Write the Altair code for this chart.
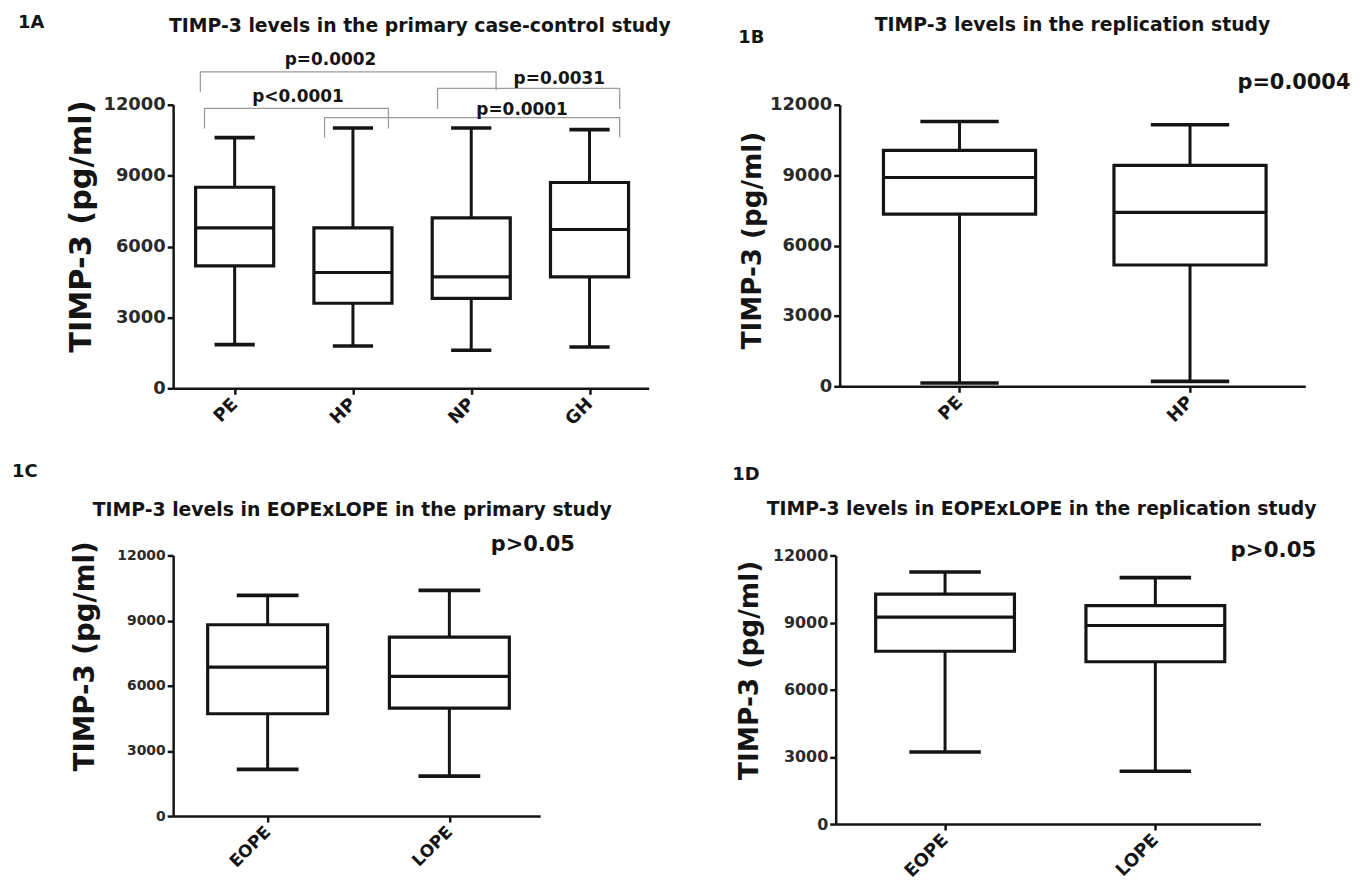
import json
import altair as alt
import pandas as pd

FONT = "DejaVu Sans"
INK = "#141414"
GREY = "#9c9c9c"

# ---------------- data ----------------
a_groups = ["PE", "HP", "NP", "GH"]
a_min = [1850, 1790, 1610, 1750]
a_q1 = [5180, 3600, 3810, 4720]
a_med = [6790, 4900, 4720, 6720]
a_q3 = [8510, 6790, 7210, 8710]
a_max = [10610, 11020, 11020, 10950]

b_groups = ["PE", "HP"]
b_min = [140, 210]
b_q1 = [7340, 5170]
b_med = [8900, 7410]
b_q3 = [10060, 9420]
b_max = [11290, 11150]

c_groups = ["EOPE", "LOPE"]
c_min = [2150, 1840]
c_q1 = [4710, 4970]
c_med = [6860, 6430]
c_q3 = [8810, 8240]
c_max = [10160, 10390]

d_groups = ["EOPE", "LOPE"]
d_min = [3220, 2360]
d_q1 = [7720, 7250]
d_med = [9240, 8870]
d_q3 = [10270, 9760]
d_max = [11260, 11010]

y_ticks = [0, 3000, 6000, 9000, 12000]
y_title = "TIMP-3  (pg/ml)"

a_pairs = [("PE", "NP"), ("PE", "HP"), ("NP", "GH"), ("HP", "GH")]
a_pvals = ["p=0.0002", "p<0.0001", "p=0.0031", "p=0.0001"]
b_pval = "p=0.0004"
c_pval = "p>0.05"
d_pval = "p>0.05"

titles = [
    "TIMP-3 levels in the primary case-control study",
    "TIMP-3 levels in the replication study",
    "TIMP-3 levels in EOPExLOPE in the primary study",
    "TIMP-3 levels in EOPExLOPE in the replication study",
]
labels = ["1A", "1B", "1C", "1D"]

# ---------------- annotation geometry (layout, not data) ----------------
# bracket: left offset, right offset, top level, left drop, right drop,
#          text offset from left group, text level
a_bracket_geom = [
    (-0.29, 0.21, 13390, 12550, 12620, 0.81, 13670),
    (-0.255, 0.30, 11845, 11000, 11000, 0.535, 12126),
    (-0.285, 0.255, 12690, 11820, 11820, 0.745, 12897),
    (-0.24, 0.255, 11455, 10610, 10610, 1.43, 11566),
]


def text_layer(txt, x, y, size, align="left"):
    return alt.Chart(pd.DataFrame({"t": [txt]})).mark_text(
        align=align, baseline="alphabetic", font=FONT, fontWeight="bold",
        fontSize=size, color=INK
    ).encode(x=alt.value(x), y=alt.value(y), text="t:N")


def frame_layer(left, top, right, bottom):
    # invisible diagonal rule that fixes the panel's layout bounds
    return alt.Chart(pd.DataFrame({"a": [0]})).mark_rule(
        opacity=0, strokeWidth=1
    ).encode(x=alt.value(-left), x2=alt.value(right),
             y=alt.value(-top), y2=alt.value(bottom))


def box_panel(groups, mn, q1, med, q3, mx, width, height, tick_fs, xlab_fs,
              ytitle_fs, ytitle_xy, label, label_xy, title, title_xy, title_fs,
              extras, frame):
    n = len(groups)
    df = pd.DataFrame({"g": groups, "i": list(range(1, n + 1)), "mn": mn,
                       "q1": q1, "med": med, "q3": q3, "mx": mx})
    base = alt.Chart(df).transform_calculate(
        l="datum.i - 0.33", r="datum.i + 0.33",
        cl="datum.i - 0.17", cr="datum.i + 0.17")
    xs = alt.Scale(domain=[0.48, n + 0.5], nice=False, zero=False)
    ys = alt.Scale(domain=[0, 12000], nice=False, zero=True)
    names = json.dumps(groups)
    xaxis = alt.Axis(values=list(range(1, n + 1)), labelExpr=f"{names}[datum.value - 1]",
                     title=None, grid=False, labelAngle=315, labelAlign="right",
                     labelBaseline="middle", labelPadding=7, labelFontSize=xlab_fs,
                     labelFont=FONT, labelFontWeight="bold", labelColor=INK,
                     domainColor=INK, domainWidth=2.5, tickColor=INK, tickWidth=2.5,
                     tickSize=6, labelOverlap=False)
    yaxis = alt.Axis(values=y_ticks, format="d", title=y_title, grid=False,
                     titleX=ytitle_xy[0], titleY=ytitle_xy[1], titleAngle=270,
                     titleAlign="center", titleBaseline="middle",
                     titleFontSize=ytitle_fs, titleFont=FONT, titleFontWeight="bold",
                     titleColor=INK, labelFontSize=tick_fs, labelFont=FONT,
                     labelFontWeight="bold", labelColor="#2a2a2a", labelPadding=2,
                     domainColor=INK, domainWidth=2.5, tickColor=INK, tickWidth=2.5,
                     tickSize=6)
    whisk = base.mark_rule(strokeWidth=3, color=INK).encode(
        x=alt.X("i:Q", scale=xs, axis=xaxis),
        y=alt.Y("mn:Q", scale=ys, axis=yaxis), y2="mx:Q")
    box = base.mark_rect(fill="white", stroke=INK, strokeWidth=3.2).encode(
        x=alt.X("l:Q", scale=xs, axis=xaxis), x2="r:Q",
        y=alt.Y("q1:Q", scale=ys, axis=yaxis), y2="q3:Q")
    medr = base.mark_rule(strokeWidth=3.2, color=INK).encode(
        x=alt.X("l:Q", scale=xs, axis=xaxis), x2="r:Q",
        y=alt.Y("med:Q", scale=ys, axis=yaxis))
    caplo = base.mark_rule(strokeWidth=3.6, color=INK).encode(
        x=alt.X("cl:Q", scale=xs, axis=xaxis), x2="cr:Q",
        y=alt.Y("mn:Q", scale=ys, axis=yaxis))
    caphi = base.mark_rule(strokeWidth=3.6, color=INK).encode(
        x=alt.X("cl:Q", scale=xs, axis=xaxis), x2="cr:Q",
        y=alt.Y("mx:Q", scale=ys, axis=yaxis))
    layers = [whisk, box, medr, caplo, caphi]
    for e in extras:
        layers.append(e(xs, ys, xaxis, yaxis))
    layers.append(text_layer(label, label_xy[0], label_xy[1], 18))
    layers.append(text_layer(title, title_xy[0], title_xy[1], title_fs, align="center"))
    layers.append(frame_layer(*frame))
    return alt.layer(*layers).properties(width=width, height=height)


def brackets(xs, ys, xaxis, yaxis):
    rows = []
    for k, ((g1, g2), geom) in enumerate(zip(a_pairs, a_bracket_geom)):
        lo, ro, top, ld, rd, _, _ = geom
        xl = a_groups.index(g1) + 1 + lo
        xr = a_groups.index(g2) + 1 + ro
        pts = [(xl, ld), (xl, top), (xr, top), (xr, rd)]
        for o, (px, py) in enumerate(pts):
            rows.append({"id": k, "o": o, "bx": px, "by": py})
    return alt.Chart(pd.DataFrame(rows)).mark_line(color=GREY, strokeWidth=1.3).encode(
        x=alt.X("bx:Q", scale=xs, axis=xaxis), y=alt.Y("by:Q", scale=ys, axis=yaxis),
        detail="id:N", order="o:Q")


def bracket_text(xs, ys, xaxis, yaxis):
    rows = []
    for (g1, g2), geom, p in zip(a_pairs, a_bracket_geom, a_pvals):
        rows.append({"tx": a_groups.index(g1) + 1 + geom[5], "ty": geom[6], "p": p})
    return alt.Chart(pd.DataFrame(rows)).mark_text(
        font=FONT, fontWeight="bold", fontSize=17, color=INK,
        align="center", baseline="alphabetic").encode(
        x=alt.X("tx:Q", scale=xs, axis=xaxis), y=alt.Y("ty:Q", scale=ys, axis=yaxis),
        text="p:N")


def corner_p(txt, xpos, ypos, size):
    def f(xs, ys, xaxis, yaxis):
        return alt.Chart(pd.DataFrame({"p": [txt], "px": [xpos], "py": [ypos]})).mark_text(
            font=FONT, fontWeight="bold", fontSize=size, color=INK,
            align="right", baseline="alphabetic").encode(
            x=alt.X("px:Q", scale=xs, axis=xaxis), y=alt.Y("py:Q", scale=ys, axis=yaxis),
            text="p:N")
    return f


pA = box_panel(a_groups, a_min, a_q1, a_med, a_q3, a_max, 478, 285, 18, 18, 30.5,
               (-92, 122), labels[0], (-156, -77), titles[0], (248, -73), 18.9,
               [brackets, bracket_text], (158, 95, 501, 342))
pB = box_panel(b_groups, b_min, b_q1, b_med, b_q3, b_max, 468, 283, 18, 18, 26.3,
               (-88, 136), labels[1], (-102, -62), titles[1], (234, -74), 18.9,
               [corner_p(b_pval, 2.696, 12678, 21)], (169, 94, 518, 343))
pC = box_panel(c_groups, c_min, c_q1, c_med, c_q3, c_max, 369, 262, 14, 17, 27.8,
               (-88, 101), labels[2], (-162, -79), titles[2], (180, -40), 18.9,
               [corner_p(c_pval, 2.69, 12183, 21)], (166, 105, 445, 330))
pD = box_panel(d_groups, d_min, d_q1, d_med, d_q3, d_max, 427, 270, 16, 18, 26.5,
               (-87, 115), labels[3], (-104, -76), titles[3], (207, -41), 18.9,
               [corner_p(d_pval, 2.766, 11911, 21.5)], (221, 105, 496, 330))

row1 = alt.hconcat(pA, pB, spacing=0)
row2 = alt.hconcat(pC, pD, spacing=0)
chart = alt.vconcat(row1, row2, spacing=5).properties(
    padding={"left": 0, "top": 0, "right": 0, "bottom": 0},
    background="white",
).configure_view(strokeWidth=0)

chart.save("out.html", embed_options={"renderer": "svg", "actions": False})
